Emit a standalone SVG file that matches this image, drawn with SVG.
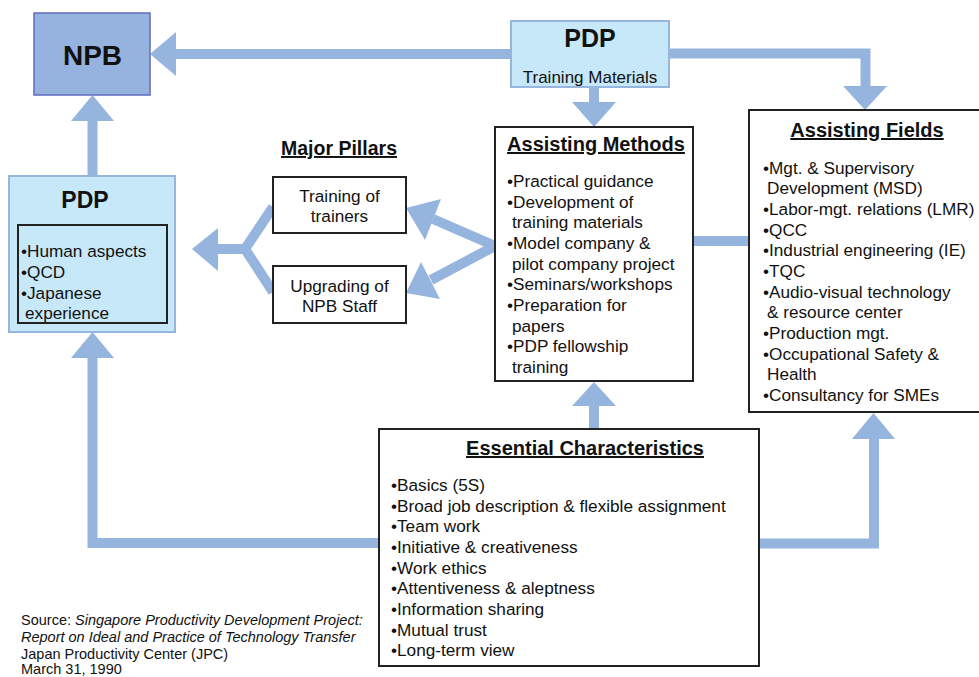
<svg xmlns="http://www.w3.org/2000/svg" width="979" height="677" viewBox="0 0 979 677">
<style>
text{font-family:"Liberation Sans",Arial,sans-serif;fill:#111}
.b{font-weight:bold}
.u{text-decoration:underline}
.t17{font-size:17.2px}
.c{text-anchor:middle}
.box{fill:#fff;stroke:#222;stroke-width:2}
.cyan{fill:#c7e8f8;stroke:#96b6df;stroke-width:2}
.shaft{fill:none;stroke:#95b5df;stroke-width:10}
.head{fill:#95b5df;stroke:none}
</style>
<rect width="979" height="677" fill="#fff"/>
<g id="connectors">
  <!-- top PDP to NPB -->
  <path class="shaft" d="M511 54 H174"/>
  <polygon class="head" points="150,54 176,32 176,76"/>
  <!-- top PDP to Assisting Fields -->
  <path class="shaft" d="M669 53.5 H865.5 V88"/>
  <polygon class="head" points="865,110 843,86 887,86"/>
  <!-- top PDP to Assisting Methods -->
  <path class="shaft" d="M594 87 V104"/>
  <polygon class="head" points="594,127 572,102 616,102"/>
  <!-- left PDP to NPB -->
  <path class="shaft" d="M92.5 176 V119"/>
  <polygon class="head" points="92.5,95 71,121 114,121"/>
  <!-- pillars fork to left PDP -->
  <path class="shaft" d="M273 207 L245 249 L273 292 M245 249 H216"/>
  <polygon class="head" points="192,249 218,228 218,271"/>
  <!-- Assisting Methods to pillars -->
  <path class="shaft" d="M495 246 L433 219 M495 246 L431 280"/>
  <polygon class="head" points="406,208 441,199 425,240"/>
  <polygon class="head" points="406,293 421,262 440,299"/>
  <!-- Assisting Methods to Assisting Fields -->
  <path class="shaft" d="M693 241 H749"/>
  <!-- Essential to Assisting Methods -->
  <path class="shaft" d="M594 429 V404"/>
  <polygon class="head" points="594,382 572,406 616,406"/>
  <!-- Essential to left PDP -->
  <path class="shaft" d="M379 543 H92.5 V356"/>
  <polygon class="head" points="92.5,332 71,358 114,358"/>
  <!-- Essential to Assisting Fields -->
  <path class="shaft" d="M759 543.5 H874 V437"/>
  <polygon class="head" points="873.5,413 852,439 895,439"/>
</g>
<g id="npb">
  <rect x="34" y="13" width="116" height="82" fill="#95b3de" stroke="#5f6cbd" stroke-width="1.5"/>
  <text x="92.5" y="65" class="b c" font-size="28">NPB</text>
</g>
<g id="pdp-top">
  <rect x="511" y="21" width="158" height="66" class="cyan"/>
  <text x="590" y="47" class="b c" font-size="25">PDP</text>
  <text x="590" y="83" class="c" font-size="17">Training Materials</text>
</g>
<g id="pdp-left">
  <rect x="9" y="176" width="166" height="156" class="cyan"/>
  <text x="85" y="208" class="b c" font-size="23">PDP</text>
  <rect x="18" y="225" width="149" height="98" fill="#c7e8f8" stroke="#222" stroke-width="2"/>
  <text class="t17" x="21" y="257">•Human aspects</text>
  <text class="t17" x="21" y="278">•QCD</text>
  <text class="t17" x="21" y="298.5">•Japanese</text>
  <text class="t17" x="25" y="319"> experience</text>
</g>
<g id="major-pillars">
  <text x="339" y="155" class="b u c" font-size="19.5">Major Pillars</text>
</g>
<g id="training-of-trainers">
  <rect x="273" y="177" width="133" height="56" class="box"/>
  <text x="339.5" y="202" class="t17 c">Training of</text>
  <text x="339.5" y="222" class="t17 c">trainers</text>
</g>
<g id="upgrading-npb-staff">
  <rect x="273" y="266" width="133" height="57" class="box"/>
  <text x="339.5" y="292" class="t17 c">Upgrading of</text>
  <text x="339.5" y="312" class="t17 c">NPB Staff</text>
</g>
<g id="assisting-methods">
  <rect x="495" y="127" width="198" height="254" class="box"/>
  <text x="596" y="151" class="b u c" font-size="20">Assisting Methods</text>
  <text class="t17" x="507" y="187">•Practical guidance</text>
  <text class="t17" x="507" y="208">•Development of</text>
  <text class="t17" x="512" y="228">training materials</text>
  <text class="t17" x="507" y="249">•Model company &amp;</text>
  <text class="t17" x="512" y="270">pilot company project</text>
  <text class="t17" x="507" y="290">•Seminars/workshops</text>
  <text class="t17" x="507" y="311">•Preparation for</text>
  <text class="t17" x="512" y="332">papers</text>
  <text class="t17" x="507" y="352">•PDP fellowship</text>
  <text class="t17" x="512" y="373">training</text>
</g>
<g id="assisting-fields">
  <rect x="749" y="110" width="236" height="302" class="box"/>
  <text x="867" y="137" class="b u c" font-size="20">Assisting Fields</text>
  <text class="t17" x="763" y="173.5">•Mgt. &amp; Supervisory</text>
  <text class="t17" x="767" y="194">Development (MSD)</text>
  <text class="t17" x="763" y="215">•Labor-mgt. relations (LMR)</text>
  <text class="t17" x="763" y="235.5">•QCC</text>
  <text class="t17" x="763" y="256">•Industrial engineering (IE)</text>
  <text class="t17" x="763" y="277">•TQC</text>
  <text class="t17" x="763" y="297.5">•Audio-visual technology</text>
  <text class="t17" x="767" y="318">&amp; resource center</text>
  <text class="t17" x="763" y="339">•Production mgt.</text>
  <text class="t17" x="763" y="359.5">•Occupational Safety &amp;</text>
  <text class="t17" x="767" y="380">Health</text>
  <text class="t17" x="763" y="401">•Consultancy for SMEs</text>
</g>
<g id="essential-characteristics">
  <rect x="379" y="429" width="380" height="237" class="box"/>
  <text x="585" y="455" class="b u c" font-size="20">Essential Characteristics</text>
  <text class="t17" x="391" y="491">•Basics (5S)</text>
  <text class="t17" x="391" y="512">•Broad job description &amp; flexible assignment</text>
  <text class="t17" x="391" y="532">•Team work</text>
  <text class="t17" x="391" y="553">•Initiative &amp; creativeness</text>
  <text class="t17" x="391" y="574">•Work ethics</text>
  <text class="t17" x="391" y="594">•Attentiveness &amp; aleptness</text>
  <text class="t17" x="391" y="615">•Information sharing</text>
  <text class="t17" x="391" y="636">•Mutual trust</text>
  <text class="t17" x="391" y="656">•Long-term view</text>
</g>
<g id="source" font-size="14.5">
  <text x="21" y="625">Source: <tspan font-style="italic">Singapore Productivity Development Project:</tspan></text>
  <text x="21" y="642" font-style="italic">Report on Ideal and Practice of Technology Transfer</text>
  <text x="21" y="659">Japan Productivity Center (JPC)</text>
  <text x="21" y="674">March 31, 1990</text>
</g>
</svg>
